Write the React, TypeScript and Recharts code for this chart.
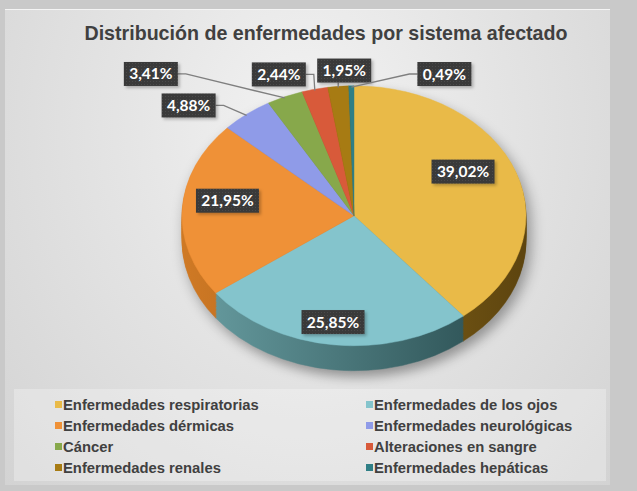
import React from 'react';
import { PieChart, Pie, Cell, Legend } from 'recharts';

const categories = [
  'Enfermedades respiratorias',
  'Enfermedades de los ojos',
  'Enfermedades dérmicas',
  'Enfermedades neurológicas',
  'Cáncer',
  'Alteraciones en sangre',
  'Enfermedades renales',
  'Enfermedades hepáticas',
];
const counts = [80, 53, 45, 10, 7, 5, 4, 1];
const title = 'Distribución de enfermedades por sistema afectado';

const colors = ['#E9BA48', '#84C4CC', '#EF9137', '#8F9BE8', '#87A84B', '#D85A3A', '#A77B13', '#2F7F86'];
const sideLight = ['#A88020', '#6AA0A4', '#D07A25', '#6570B0', '#62793A', '#9E3E28', '#7A590E', '#235C61'];
const sideDark = ['#5E450F', '#274A4D', '#8A4C12', '#3E4670', '#3E4D22', '#652719', '#4D380A', '#163A3D'];
// label offsets from anchor (layout only)
const labelNudge: [number, number][] = [
  [-14, -12], [-5, 7], [4, -11], [-58, -10], [-134, -24], [-36, -16], [6, -17], [93, -13],
];

const data = categories.map((name, i) => ({ name, value: counts[i] }));

const W = 637, H = 491;
const CX = 349, CY = 212, RX = 172, RY = 130, DEPTH = 25;
const K = RY / RX;
const STEPS = 18;
const depthSteps = Array.from({ length: STEPS }, (_, i) => DEPTH - (i * DEPTH) / STEPS);

const fmt = (p: number) => (p * 100).toFixed(2).replace('.', ',') + '%';

const renderLabel = (props: any) => {
  const { cx, cy, midAngle, outerRadius, percent, index } = props;
  const rad = (-midAngle * Math.PI) / 180;
  const inside = percent > 0.1;
  const r = inside ? outerRadius * 0.76 : outerRadius;
  const ax = cx + r * Math.cos(rad);
  const ay = cy + r * Math.sin(rad) * K;
  const [nx, ny] = labelNudge[index];
  const lx = ax + nx;
  const ly = ay + ny;
  const text = fmt(percent);
  const bw = text.length * 9 + 9;
  const bh = 24;
  const bx0 = lx - bw / 2, bx1 = lx + bw / 2, by0 = ly - bh / 2, by1 = ly + bh / 2;
  let line: string | null = null;
  if (!inside) {
    if (ax > bx1) line = `${bx1},${ly} ${bx1 + 8},${ly} ${ax},${ay}`;
    else if (ax < bx0) line = `${bx0},${ly} ${bx0 - 8},${ly} ${ax},${ay}`;
    else line = `${ax},${by1} ${ax},${ay}`;
  }
  return (
    <g key={`lbl-${index}`}>
      {line && <polyline points={line} fill="none" stroke="#7F7F7F" strokeWidth={1.3} />}
      <rect x={bx0 + 2} y={by0 + 2} width={bw} height={bh} fill="rgba(0,0,0,0.25)" filter="url(#lblBlur)" />
      <rect x={bx0} y={by0} width={bw} height={bh} fill="url(#lblPattern)" />
      <text
        x={lx}
        y={ly + 5.5}
        textAnchor="middle"
        fill="#FFFFFF"
        fontFamily="Lato, 'Open Sans', sans-serif"
        fontWeight={700}
        fontSize={15.5}
      >
        {text}
      </text>
    </g>
  );
};

const renderLegend = (props: any) => {
  const payload = (props.payload || []).slice().sort(
    (a: any, b: any) => categories.indexOf(a.value) - categories.indexOf(b.value)
  );
  return (
    <div
      style={{
        width: 592,
        height: 92,
        background: 'rgba(255,255,255,0.28)',
        boxSizing: 'border-box',
        padding: '5px 0 0 41px',
        display: 'grid',
        gridTemplateColumns: '311px 260px',
        gridAutoRows: '21px',
        fontFamily: "'Liberation Sans', Arial, sans-serif",
        fontWeight: 700,
        fontSize: 14.8,
        color: '#404040',
      }}
    >
      {payload.map((entry: any, i: number) => (
        <div key={i} style={{ display: 'flex', alignItems: 'center', whiteSpace: 'nowrap' }}>
          <span
            style={{
              display: 'inline-block',
              width: 7,
              height: 7,
              background: entry.color,
              marginRight: 1,
            }}
          />
          <span>{entry.value}</span>
        </div>
      ))}
    </div>
  );
};

export default function App() {
  return (
    <div
      style={{
        position: 'absolute',
        left: 0,
        top: 0,
        width: W,
        height: H,
        overflow: 'hidden',
        background: '#C9C9C9',
      }}
    >
      <div
        style={{
          position: 'absolute',
          left: 5,
          top: 9,
          width: 605,
          height: 475,
          background: 'radial-gradient(ellipse at 50% 25%, #F3F3F3 0%, #E4E4E4 45%, #D3D3D3 100%)',
          borderTop: '1px solid #F4F4F4',
        }}
      />
      <svg style={{ position: 'absolute', left: 0, top: 0 }} width={W} height={60}>
        <text
          x={326}
          y={40}
          textAnchor="middle"
          fill="#404040"
          fontFamily="'Liberation Sans', Arial, sans-serif"
          fontWeight={700}
          fontSize={21}
          textLength={483}
          lengthAdjust="spacingAndGlyphs"
        >
          {title}
        </text>
      </svg>
      <div
        style={{
          position: 'absolute',
          left: 0,
          top: 0,
          width: W,
          height: 700,
          transform: `scaleY(${K})`,
          transformOrigin: `${CX}px ${CY}px`,
          filter: 'drop-shadow(4px 8px 7px rgba(0,0,0,0.35))',
        }}
      >
        <PieChart width={W} height={700}>
          <defs>
            {colors.map((c, i) => (
              <linearGradient key={i} id={`side-${i}`} gradientUnits="userSpaceOnUse" x1={CX - RX} y1={0} x2={CX + RX} y2={0}>
                <stop offset="0%" stopColor={sideLight[i]} />
                <stop offset="100%" stopColor={sideDark[i]} />
              </linearGradient>
            ))}
          </defs>
          {depthSteps.map((t, s) => (
            <Pie
              key={`side-${s}`}
              data={data}
              dataKey="value"
              nameKey="name"
              cx={CX}
              cy={CY + t / K}
              outerRadius={RX}
              startAngle={90}
              endAngle={-270}
              isAnimationActive={false}
              legendType="none"
            >
              {data.map((d, i) => (
                <Cell key={i} fill={`url(#side-${i})`} stroke={`url(#side-${i})`} strokeWidth={0.5} />
              ))}
            </Pie>
          ))}
          <Pie
            data={data}
            dataKey="value"
            nameKey="name"
            cx={CX}
            cy={CY}
            outerRadius={RX}
            startAngle={90}
            endAngle={-270}
            isAnimationActive={false}
          >
            {data.map((d, i) => (
              <Cell key={i} fill={colors[i]} stroke={colors[i]} strokeWidth={0.5} />
            ))}
          </Pie>
        </PieChart>
      </div>
      <div style={{ position: 'absolute', left: 0, top: 0 }}>
        <PieChart width={W} height={H}>
          <defs>
            <pattern id="lblPattern" width={3} height={3} patternUnits="userSpaceOnUse">
              <rect width={3} height={3} fill="#3A3A3A" />
              <rect width={1} height={1} fill="#4A4A4A" />
            </pattern>
            <filter id="lblBlur" x="-20%" y="-20%" width="140%" height="140%">
              <feGaussianBlur stdDeviation={1.5} />
            </filter>
          </defs>
          <Pie
            data={data}
            dataKey="value"
            nameKey="name"
            cx={CX}
            cy={CY}
            outerRadius={RX}
            startAngle={90}
            endAngle={-270}
            isAnimationActive={false}
            label={renderLabel}
            labelLine={false}
            stroke="none"
          >
            {data.map((d, i) => (
              <Cell key={i} fill={colors[i]} fillOpacity={0} />
            ))}
          </Pie>
          <Legend
            content={renderLegend}
            itemSorter={(item: any) => categories.indexOf(item.value)}
            wrapperStyle={{ position: 'absolute', left: 14, top: 389, width: 592, height: 92 }}
          />
        </PieChart>
      </div>
    </div>
  );
}
